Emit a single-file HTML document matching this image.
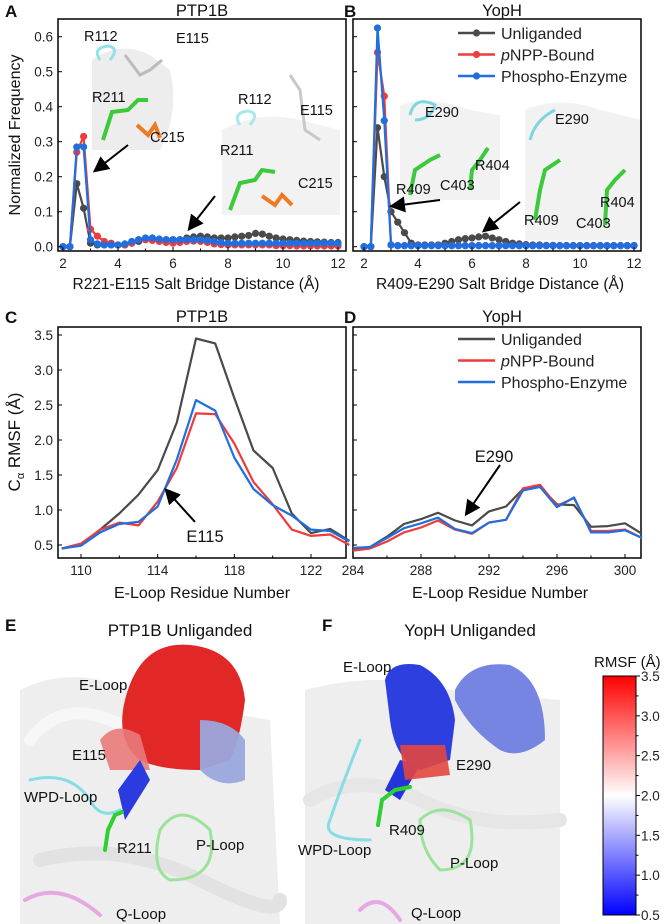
<!DOCTYPE html>
<html><head><meta charset="utf-8">
<style>
html,body{margin:0;padding:0;background:#fff;}
svg{display:block;font-family:"Liberation Sans",sans-serif;}
</style></head>
<body>
<svg id="fig" width="666" height="924" viewBox="0 0 666 924">
<defs>
<linearGradient id="cbar" x1="0" y1="1" x2="0" y2="0">
<stop offset="0" stop-color="#0000ff"/><stop offset="0.5" stop-color="#ffffff"/><stop offset="1" stop-color="#ff0000"/>
</linearGradient>
<marker id="ah" markerWidth="8" markerHeight="8" refX="6" refY="4" orient="auto"><path d="M0,0 L8,4 L0,8 Z" fill="#000"/></marker>
</defs>
<g id="insets"></g>
<g id="charts"></g>
<g id="bottom"></g>
</svg>
<script>
// ---- Data panel A/B (distance 2..12 step 0.25) ----
const distStart = 2, distStep = 0.25;
const ptpUnlig = [0,0,0.18,0.11,0.01,0.005,0.005,0.005,0.005,0.005,0.01,0.015,0.02,0.02,0.02,0.02,0.02,0.02,0.025,0.028,0.03,0.028,0.025,0.025,0.025,0.028,0.03,0.032,0.038,0.036,0.03,0.025,0.022,0.02,0.018,0.016,0.015,0.014,0.013,0.012,0.012];
const ptpPnpp  = [0,0,0.27,0.315,0.05,0.03,0.015,0.01,0.005,0.005,0.01,0.02,0.02,0.018,0.015,0.012,0.01,0.012,0.015,0.016,0.015,0.012,0.008,0.006,0.005,0.005,0.005,0.005,0.005,0.005,0.005,0.003,0.003,0.003,0.002,0.002,0.002,0.002,0.002,0.002,0.002];
const ptpPhos  = [0,0,0.285,0.285,0.02,0.008,0.005,0.005,0.005,0.008,0.015,0.02,0.025,0.025,0.022,0.02,0.02,0.02,0.02,0.02,0.02,0.018,0.015,0.012,0.01,0.01,0.01,0.01,0.01,0.01,0.01,0.01,0.01,0.01,0.01,0.01,0.01,0.01,0.01,0.01,0.01];
const yopUnlig = [0,0,0.34,0.2,0.1,0.07,0.04,0.01,0.005,0.005,0.005,0.005,0.01,0.015,0.02,0.023,0.025,0.028,0.03,0.025,0.02,0.015,0.01,0.008,0.006,0.005,0.005,0.004,0.004,0.003,0.003,0.003,0.003,0.003,0.003,0.003,0.003,0.003,0.003,0.003,0.003];
const yopPnpp  = [0,0,0.555,0.43,0.005,0.003,0.003,0.003,0.003,0.003,0.003,0.003,0.003,0.003,0.003,0.003,0.003,0.003,0.003,0.003,0.003,0.003,0.003,0.003,0.003,0.003,0.003,0.003,0.003,0.003,0.003,0.003,0.003,0.003,0.003,0.003,0.003,0.003,0.003,0.003,0.003];
const yopPhos  = [0,0,0.625,0.36,0.005,0.003,0.003,0.003,0.003,0.003,0.003,0.003,0.003,0.003,0.003,0.003,0.003,0.003,0.003,0.003,0.003,0.003,0.003,0.003,0.003,0.003,0.003,0.003,0.003,0.003,0.003,0.003,0.003,0.003,0.003,0.003,0.003,0.003,0.003,0.003,0.003];
const freqTicks = [0.0,0.1,0.2,0.3,0.4,0.5,0.6];
const distTicks = [2,4,6,8,10,12];
// ---- Data panel C/D ----
const ptpResidues = [109,110,111,112,113,114,115,116,117,118,119,120,121,122,123,124];
const ptpRmsfUnlig = [0.45,0.5,0.72,0.95,1.22,1.57,2.25,3.45,3.38,2.6,1.85,1.6,0.95,0.67,0.73,0.56];
const ptpRmsfPnpp  = [0.45,0.52,0.72,0.82,0.78,1.12,1.6,2.38,2.37,1.95,1.4,1.08,0.72,0.63,0.65,0.5];
const ptpRmsfPhos  = [0.45,0.49,0.68,0.8,0.83,1.05,1.72,2.57,2.42,1.75,1.3,1.07,0.92,0.72,0.7,0.55];
const yopResidues = [284,285,286,287,288,289,290,291,292,293,294,295,296,297,298,299,300,301];
const yopRmsfUnlig = [0.45,0.47,0.62,0.8,0.87,0.96,0.85,0.78,0.98,1.05,1.3,1.33,1.08,1.07,0.76,0.77,0.81,0.66];
const yopRmsfPnpp  = [0.42,0.45,0.55,0.68,0.75,0.85,0.72,0.66,0.82,0.86,1.31,1.36,1.06,1.17,0.7,0.7,0.72,0.6];
const yopRmsfPhos  = [0.46,0.47,0.6,0.74,0.81,0.89,0.73,0.67,0.82,0.86,1.28,1.33,1.04,1.18,0.68,0.68,0.71,0.6];
const rmsfTicks = [0.5,1.0,1.5,2.0,2.5,3.0,3.5];
const ptpResTicks = [110,114,118,122];
const yopResTicks = [284,288,292,296,300];
const seriesNames = ["Unliganded","pNPP-Bound","Phospho-Enzyme"];
const colorbarTicks = [0.5,1.0,1.5,2.0,2.5,3.0,3.5];

const NS="http://www.w3.org/2000/svg";
const svg=document.getElementById('charts');
function mk(tag,attrs,parent,text){const e=document.createElementNS(NS,tag);for(const k in attrs)e.setAttribute(k,attrs[k]);if(text!==undefined)e.textContent=text;(parent||svg).appendChild(e);return e;}
const COLS=["#4a4a4a","#ee3b3b","#1f6fe0"];

function scale(d0,d1,r0,r1){return v=>r0+(v-d0)*(r1-r0)/(d1-d0);}

function frame(name,x0,y0,x1,y1){
  const r=mk('rect',{x:x0,y:y0,width:x1-x0,height:y1-y0,fill:'none',stroke:'#000','stroke-width':1.5});
  
  
}
function xAxis(name,ticks,sx,yb,minor){
  const g=mk('g',{});
  
  
  ticks.forEach(t=>{
    mk('line',{x1:sx(t),x2:sx(t),y1:yb,y2:yb-4,stroke:'#000'},g);
    const tx=mk('text',{x:sx(t),y:yb+17,'text-anchor':'middle','font-size':13.5,fill:'#222'},g,String(t));
    
    
  });
  (minor||[]).forEach(t=>mk('line',{x1:sx(t),x2:sx(t),y1:yb,y2:yb-2.5,stroke:'#000'},g));
}
function yAxis(name,ticks,sy,xl,fmt,labels){
  const g=mk('g',{});
  
  
  ticks.forEach(t=>{
    mk('line',{x1:xl,x2:xl+4,y1:sy(t),y2:sy(t),stroke:'#000'},g);
    if(labels){
      const tx=mk('text',{x:xl-5,y:sy(t)+5,'text-anchor':'end','font-size':13.5,fill:'#222'},g,t.toFixed(fmt));
      
      
    }
  });
}
function series(name,xs,ys,sx,sy,col,dots){
  const pts=xs.map((x,i)=>sx(x).toFixed(1)+','+sy(ys[i]).toFixed(1)).join(' ');
  const pl=mk('polyline',{points:pts,fill:'none',stroke:col,'stroke-width':dots?2.2:2.2,'stroke-linejoin':'round'});
  
  
  if(dots){xs.forEach((x,i)=>{
    const c=mk('circle',{cx:sx(x),cy:sy(ys[i]),r:3.6,fill:col});
    
    
  });}
}
function txt(name,x,y,s,size,anchor,extra){
  const t=mk('text',Object.assign({x:x,y:y,'font-size':size,'text-anchor':anchor||'start',fill:'#111'},extra||{}),undefined,s);
  
  
  return t;
}
function legend(name,x,y0,dy,dots){
  const g=mk('g',{});
  
  
  seriesNames.forEach((n,i)=>{
    const y=y0+i*dy;
    mk('line',{x1:x,x2:x+37,y1:y,y2:y,stroke:COLS[i],'stroke-width':2.5},g);
    if(dots)mk('circle',{cx:x+18.5,cy:y,r:3.6,fill:COLS[i]},g);
    const t=mk('text',{x:x+43,y:y+6,'font-size':16,fill:'#222'},g);
    
    
    if(i===1){const a=mk('tspan',{'font-style':'italic'},t,'p');mk('tspan',{},t,'NPP-Bound');}
    else t.textContent=n;
  });
}
function arrow(name,x1,y1,x2,y2){
  const l=mk('line',{x1:x1,y1:y1,x2:x2,y2:y2,stroke:'#000','stroke-width':2,'marker-end':'url(#ah)'});
  
  
}

// ---------- Insets (simplified structures) ----------
const ins=document.getElementById('insets');
function blob(d,fill,op,sw,stroke){mk('path',{d:d,fill:fill,opacity:op,stroke:stroke||'none','stroke-width':sw||0},ins);}
// A inset 1
blob('M92,60 Q120,40 150,55 L170,70 Q180,110 160,150 L92,150 Z','#e6e6e6',0.7);
blob('M100,60 q-8,-12 8,-14 q12,2 2,14','none',1,3,'#8fe3e6');
blob('M125,55 L140,75 L150,70 L162,60','none',1,3,'#bbb');
blob('M103,140 L112,112 L128,110 L138,100 L148,100','none',1,4,'#3cc93c');
blob('M137,125 L148,135 L155,125 L160,138','none',1,4,'#ee7a22');
// A inset 2
blob('M222,130 Q260,110 300,120 L340,130 L340,215 L222,215 Z','#ececec',0.7);
blob('M240,125 q-8,-12 8,-14 q12,2 2,14','none',1,3,'#a9e8ea');
blob('M290,75 L300,90 L305,130 L320,140','none',1,3,'#c8c8c8');
blob('M230,210 L240,183 L255,180 L262,170 L275,172','none',1,4,'#3cc93c');
blob('M262,196 L275,205 L282,195 L292,205','none',1,4,'#ee7a22');
// B insets
blob('M400,105 Q430,95 470,110 L500,115 L500,200 L400,200 Z','#ececec',0.7);
blob('M410,115 q5,-20 25,-10 q-5,15 -20,15','none',1,3,'#7fd6de');
blob('M410,195 L415,170 L430,160 L440,155','none',1,4,'#3cc93c');
blob('M470,190 L472,170 L480,160 L488,148','none',1,4,'#3cc93c');
blob('M525,110 Q560,95 600,110 L642,120 L642,240 L525,240 Z','#ececec',0.7);
blob('M530,140 q5,-20 25,-30','none',1,3,'#7fd6de');
blob('M535,220 L540,190 L545,170 L560,160','none',1,4,'#3cc93c');
blob('M605,225 L607,190 L615,180 L625,170','none',1,4,'#3cc93c');

// ---------- Panel A ----------
const axA=scale(2,12,63,338), ayA=scale(0,0.6,246.7,36.7);
const distX=ptpUnlig.map((_,i)=>distStart+i*distStep);
frame('plot-frame-a',58,19,346,251);
series('series-a-unliganded',distX,ptpUnlig,axA,ayA,COLS[0],true);
series('series-a-pnpp',distX,ptpPnpp,axA,ayA,COLS[1],true);
series('series-a-phospho',distX,ptpPhos,axA,ayA,COLS[2],true);
xAxis('x-axis-a',distTicks,axA,251,[3,5,7,9,11]);
yAxis('y-axis-a',freqTicks,ayA,58,1,true);
txt('panel-label-a',5,17,'A',17,'start',{'font-weight':'bold'});
txt('title-a',202,16,'PTP1B',16.5,'middle');
txt('x-axis-title-a',196,289,'R221-E115 Salt Bridge Distance (Å)',15.5,'middle');
txt('y-axis-title-a',20,135,'Normalized Frequency',16,'middle',{transform:'rotate(-90 20 135)'});
[['R112',84,41],['E115',176,43],['R211',92,102],['C215',150,142],['R112',238,104],['E115',300,115],['R211',220,155],['C215',298,188]].forEach(l=>txt('inset-label',l[1],l[2],l[0],14.5,'start'));
arrow('arrow-a-1',128,145,96,170);
arrow('arrow-a-2',215,196,190,228);

// ---------- Panel B ----------
const axB=scale(2,12,364,634);
frame('plot-frame-b',353,19,641,251);
series('series-b-unliganded',distX,yopUnlig,axB,ayA,COLS[0],true);
series('series-b-pnpp',distX,yopPnpp,axB,ayA,COLS[1],true);
series('series-b-phospho',distX,yopPhos,axB,ayA,COLS[2],true);
xAxis('x-axis-b',distTicks,axB,251,[3,5,7,9,11]);
yAxis('y-axis-b',freqTicks,ayA,353,1,false);
txt('panel-label-b',344,17,'B',17,'start',{'font-weight':'bold'});
txt('title-b',502,16,'YopH',16.5,'middle');
txt('x-axis-title-b',500,289,'R409-E290 Salt Bridge Distance (Å)',15.5,'middle');
legend('legend-ab',458,33,21.5,true);
[['E290',425,117],['R404',475,170],['R409',396,194],['C403',440,190],['E290',555,124],['R404',600,207],['R409',524,225],['C403',576,228]].forEach(l=>txt('inset-label',l[1],l[2],l[0],14.5,'start'));
arrow('arrow-b-1',440,200,393,206);
arrow('arrow-b-2',520,202,485,230);

// ---------- Panel C ----------
const axC=scale(110,122,81,311), ayC=scale(0.5,3.5,545,335);
frame('plot-frame-c',58,327,346,558);
series('series-c-unliganded',ptpResidues,ptpRmsfUnlig,axC,ayC,COLS[0],false);
series('series-c-pnpp',ptpResidues,ptpRmsfPnpp,axC,ayC,COLS[1],false);
series('series-c-phospho',ptpResidues,ptpRmsfPhos,axC,ayC,COLS[2],false);
xAxis('x-axis-c',ptpResTicks,axC,558,[112,116,120]);
yAxis('y-axis-c',rmsfTicks,ayC,58,1,true);
txt('panel-label-c',5,323,'C',17,'start',{'font-weight':'bold'});
txt('title-c',202,322,'PTP1B',16.5,'middle');
txt('x-axis-title-c',202,598,'E-Loop Residue Number',16,'middle');
(function(){const t=txt('y-axis-title-c',20,442,'C',17,'middle',{transform:'rotate(-90 20 442)'});t.textContent='';
 mk('tspan',{},t,'C');mk('tspan',{'font-size':11,dy:4},t,'α');mk('tspan',{dy:-4},t,' RMSF (Å)');})();
arrow('arrow-c',195,522,167,491);
txt('annot-e115',205,542,'E115',16.5,'middle');

// ---------- Panel D ----------
const axD=scale(284,300,353,625);
frame('plot-frame-d',353,327,641,558);
series('series-d-unliganded',yopResidues,yopRmsfUnlig,axD,ayC,COLS[0],false);
series('series-d-pnpp',yopResidues,yopRmsfPnpp,axD,ayC,COLS[1],false);
series('series-d-phospho',yopResidues,yopRmsfPhos,axD,ayC,COLS[2],false);
xAxis('x-axis-d',yopResTicks,axD,558,[286,290,294,298]);
yAxis('y-axis-d',rmsfTicks,ayC,353,1,false);
txt('panel-label-d',344,323,'D',17,'start',{'font-weight':'bold'});
txt('title-d',502,322,'YopH',16.5,'middle');
txt('x-axis-title-d',500,598,'E-Loop Residue Number',16,'middle');
legend('legend-cd',458,339,21.5,false);
arrow('arrow-d',500,465,467,513);
txt('annot-e290',494,462,'E290',16.5,'middle');

// ---------- Bottom panels ----------
const bt=document.getElementById('bottom');
function bp(d,fill,op,sw,stroke){mk('path',{d:d,fill:fill,opacity:op,stroke:stroke||'none','stroke-width':sw||0,'stroke-linecap':'round'},bt);}
// E background ribbons
bp('M20,690 Q80,660 150,700 L270,720 L280,924 L20,924 Z','#eeeeee',1);
bp('M30,740 Q60,700 110,720 T200,760','none',1,12,'#f7f7f7');
bp('M40,860 Q120,840 200,880 T280,900','none',1,14,'#e2e2e2');
bp('M25,900 Q60,880 100,915','none',1,4,'#e6a8e0');
bp('M30,780 Q70,770 90,800 Q100,820 120,810','none',1,3,'#86dde4');
bp('M160,830 Q180,800 210,830 Q220,880 170,880 Q150,870 160,830','none',1,3,'#9be39b');
// E loop red
bp('M125,700 Q140,640 190,645 Q240,650 245,700 Q240,740 230,760 L200,770 Q160,770 140,760 Q115,740 125,700 Z','#e01b1b',0.95);
bp('M200,720 Q230,720 245,740 L245,780 Q220,790 200,770 Z','#9aa6dc',0.95);
bp('M100,740 Q115,720 140,735 L150,770 L110,770 Z','#e97a7a',0.9);
bp('M118,790 L140,760 L150,780 L125,820 Z','#2b3be0',1);
bp('M105,850 L108,830 L115,815 L122,812','none',1,4,'#2fcf2f');
// F background
bp('M305,690 Q380,670 450,690 L560,700 L560,924 L305,924 Z','#eeeeee',1);
bp('M310,800 Q360,770 420,800 T560,820','none',1,14,'#e6e6e6');
bp('M360,910 Q380,890 400,920','none',1,4,'#e6a8e0');
bp('M360,740 Q340,790 330,820 Q320,840 370,840','none',1,3,'#86dde4');
bp('M420,820 Q440,800 470,820 Q480,870 440,870 Q420,850 420,820','none',1,3,'#9be39b');
// F loops blue
bp('M385,680 Q390,660 420,665 Q450,680 455,720 L450,760 L420,770 Q395,760 390,720 Z','#2235dd',0.95);
bp('M455,690 Q470,660 510,665 Q545,680 545,740 Q520,760 500,750 Q470,730 455,700 Z','#6f7ee0',0.95);
bp('M385,790 L400,760 L420,765 L400,800 Z','#2235dd',1);
bp('M400,745 L445,745 L450,775 L405,780 Z','#e3463f',0.9);
bp('M378,825 L382,800 L395,790 L410,787','none',1,4,'#2fcf2f');

function bl(s,x,y,size){const t=mk('text',{x:x,y:y,'font-size':size,fill:'#111'},bt,s);}
const tE=mk('text',{x:5,y:631,'font-size':17,'font-weight':'bold',fill:'#111'},bt,'E');
const tF=mk('text',{x:322,y:631,'font-size':17,'font-weight':'bold',fill:'#111'},bt,'F');
const ttE=mk('text',{x:180,y:636,'font-size':17,'text-anchor':'middle',fill:'#111'},bt,'PTP1B Unliganded');
const ttF=mk('text',{x:470,y:636,'font-size':17,'text-anchor':'middle',fill:'#111'},bt,'YopH Unliganded');
bl('E-Loop',79,690,15);bl('E115',72,760,15);bl('WPD-Loop',24,802,15);bl('R211',117,853,15);bl('P-Loop',196,850,15);bl('Q-Loop',116,919,15);
bl('E-Loop',343,672,15);bl('E290',456,770,15);bl('R409',389,835,15);bl('WPD-Loop',298,855,15);bl('P-Loop',450,868,15);bl('Q-Loop',411,918,15);

// colorbar
const cb=mk('rect',{x:603,y:676,width:33,height:239,fill:'url(#cbar)',stroke:'#000','stroke-width':1},bt);


const cy=scale(0.5,3.5,915,676);
colorbarTicks.forEach(v=>{
  mk('line',{x1:636,x2:640,y1:cy(v),y2:cy(v),stroke:'#000'},bt);
  const t=mk('text',{x:641,y:cy(v)+5,'font-size':13.5,fill:'#222'},bt,v.toFixed(1));
  
  
});
[0.75,1.25,1.75,2.25,2.75,3.25].forEach(v=>mk('line',{x1:636,x2:638.5,y1:cy(v),y2:cy(v),stroke:'#000'},bt));
const cbt=mk('text',{x:594,y:667,'font-size':15,fill:'#111'},bt,'RMSF (Å)');


</script>
</body></html>
